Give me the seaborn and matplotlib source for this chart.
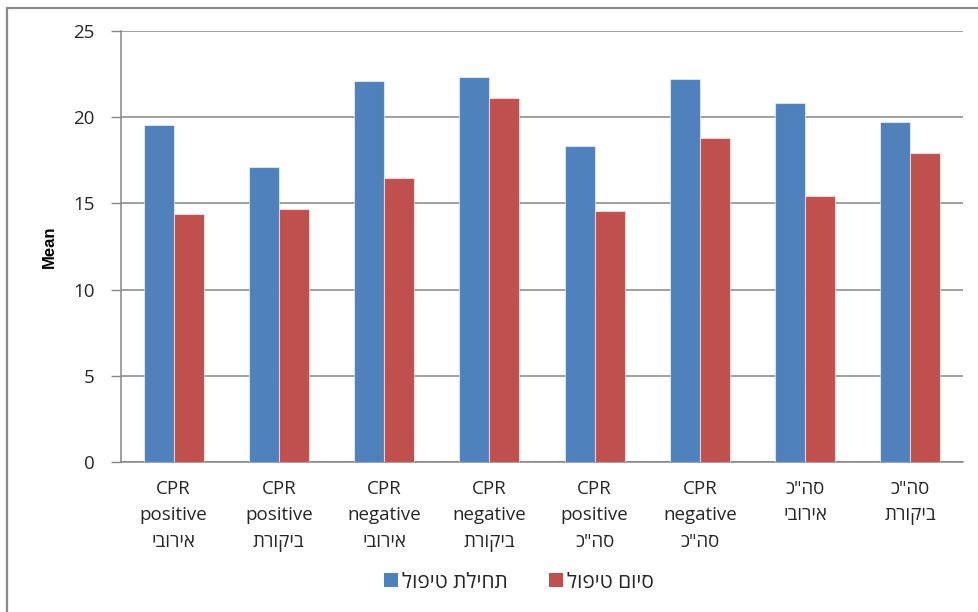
import matplotlib
matplotlib.use("Agg")
import matplotlib.pyplot as plt
from matplotlib.lines import Line2D
from matplotlib.patches import Patch
import seaborn as sns
import pandas as pd

# Category labels (logical order, one line per row)
categories = [
    "CPR\npositive\nאירובי",
    "CPR\npositive\nביקורת",
    "CPR\nnegative\nאירובי",
    "CPR\nnegative\nביקורת",
    "CPR\npositive\nסה\"כ",
    "CPR\nnegative\nסה\"כ",
    "סה\"כ\nאירובי",
    "סה\"כ\nביקורת",
]
series_names = ["תחילת טיפול", "סיום טיפול"]
start_values = [19.55, 17.11, 22.12, 22.35, 18.35, 22.22, 20.82, 19.72]
end_values = [14.38, 14.68, 16.50, 21.11, 14.56, 18.77, 15.43, 17.90]
y_ticks = [0, 5, 10, 15, 20, 25]
y_label = "Mean"


def visual(text):
    """Put right-to-left lines into display order, line by line."""
    out = []
    for line in text.split("\n"):
        if any("\u0590" <= ch <= "\u05ff" for ch in line):
            line = line[::-1]
        out.append(line)
    return "\n".join(out)


sns.set_theme(style="white")
plt.rcParams["font.family"] = ["Open Sans", "Liberation Sans", "DejaVu Sans"]

df = pd.DataFrame({
    "category": categories * 2,
    "series": [series_names[0]] * len(categories) + [series_names[1]] * len(categories),
    "value": start_values + end_values,
})

fig = plt.figure(figsize=(9.79, 6.12), dpi=100)
ax = fig.add_axes([121 / 979, 150 / 612, 842 / 979, 431 / 612])

grid_c = "#868686"
text_c = "#262626"
palette = {series_names[0]: "#4F81BD", series_names[1]: "#C0504D"}

sns.barplot(data=df, x="category", y="value", hue="series",
            order=categories, hue_order=series_names, palette=palette,
            width=0.57, saturation=1, errorbar=None, ax=ax,
            edgecolor=(1, 1, 1, 0.55), linewidth=0.8, legend=False, zorder=3)

ax.set_xlim(-0.5, len(categories) - 0.5)
ax.set_ylim(0, 25)
ax.set_yticks(y_ticks)
ax.set_yticklabels([str(t) for t in y_ticks], fontsize=13.5, color=text_c)
ax.yaxis.grid(True, color=grid_c, linewidth=1.1, zorder=0)
ax.set_axisbelow(True)

ax.set_xticks(range(len(categories)))
ax.set_xticklabels([visual(c) for c in categories], fontsize=13.5,
                   color=text_c, linespacing=1.6, va="top")
ax.tick_params(axis="x", which="major", length=0, pad=13)
ax.set_xticks([i - 0.5 for i in range(len(categories) + 1)], minor=True)
ax.tick_params(axis="x", which="minor", length=6, color=grid_c, width=1, direction="out")
ax.tick_params(axis="y", which="major", length=7, color=grid_c, width=1,
               direction="out", left=True, pad=12)
ax.set_xlabel("")
ax.set_ylabel(y_label, fontsize=12, fontweight="bold", color="black",
              family=["Liberation Sans", "DejaVu Sans"])
ax.yaxis.set_label_coords(-0.076, 0.5)

for side in ["top", "right"]:
    ax.spines[side].set_visible(False)
for side in ["left", "bottom"]:
    ax.spines[side].set_color(grid_c)
    ax.spines[side].set_linewidth(1.1)

handles = [Patch(facecolor=palette[s], edgecolor="none") for s in series_names]
fig.legend(handles, [visual(s) for s in series_names], loc="center",
           bbox_to_anchor=(0.53, 0.049), ncol=2, frameon=False,
           fontsize=15, handlelength=0.65, handleheight=0.65,
           handletextpad=0.2, columnspacing=2.0)

# Outer chart frame: top and left edges
fig.add_artist(Line2D([7.5 / 979, 1.0], [1 - 7.5 / 612, 1 - 7.5 / 612],
                      transform=fig.transFigure, color="#8a8a8a", linewidth=1.6))
fig.add_artist(Line2D([7.5 / 979, 7.5 / 979], [0.0, 1 - 7.5 / 612],
                      transform=fig.transFigure, color="#8a8a8a", linewidth=1.6))

fig.savefig("out.png", dpi=100, facecolor="white")
